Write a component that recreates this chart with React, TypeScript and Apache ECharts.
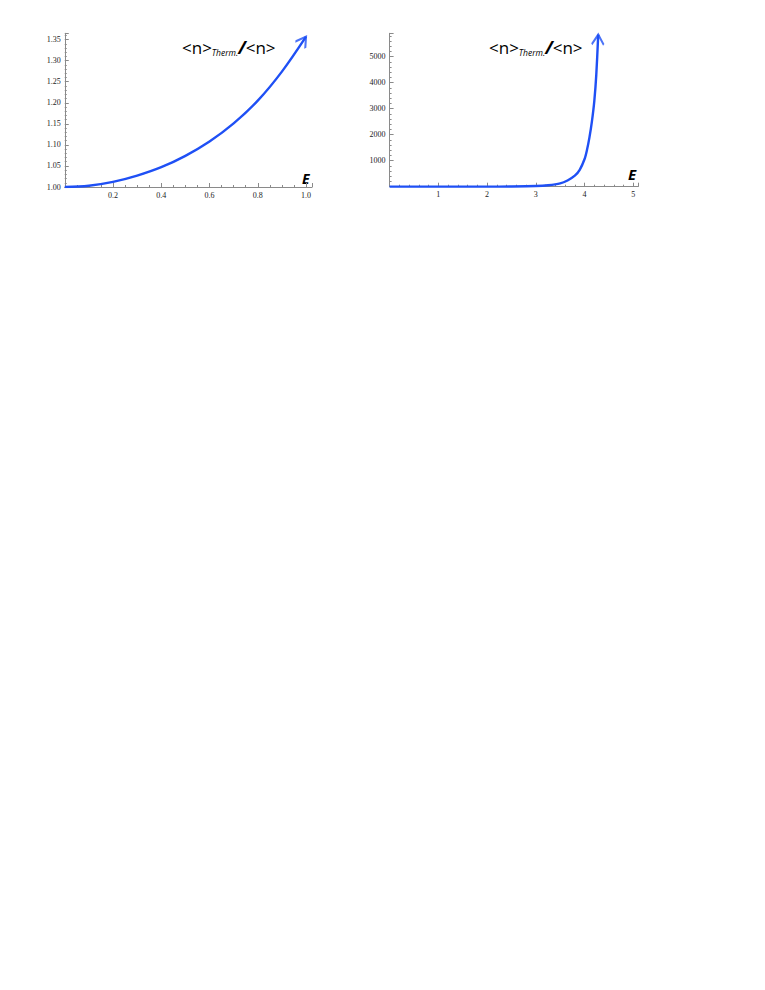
import React, { useEffect, useRef } from "react";
import * as echarts from "echarts";

// Left panel: E in [0,1]
const leftE = [0, 0.1, 0.2, 0.3, 0.4, 0.5, 0.6, 0.7, 0.8, 0.9, 1.0];
const leftRatio = [1.0, 1.003, 1.012, 1.027, 1.047, 1.074, 1.108, 1.151, 1.205, 1.274, 1.357];

// Right panel: E in [0, 4.28]
const rightE = [0, 0.5, 1, 1.5, 2, 2.5, 3, 3.25, 3.5, 3.65, 3.8, 3.9, 4.0, 4.05, 4.1, 4.15, 4.2, 4.24, 4.28];
const rightRatio = [1, 1, 1.1, 1.5, 3, 8, 25, 55, 127, 240, 423, 650, 1065, 1420, 1896, 2500, 3300, 4300, 5850];

const leftXTicks = ["0.2", "0.4", "0.6", "0.8", "1.0"];
const leftYTicks = ["1.00", "1.05", "1.10", "1.15", "1.20", "1.25", "1.30", "1.35"];
const rightXTicks = ["1", "2", "3", "4", "5"];
const rightYTicks = ["1000", "2000", "3000", "4000", "5000"];

const BLUE = "#1f50f5";
const AXIS = "#8a8a8a";
const LABEL = "#222";
const ARROW_PATH = "path://M0,20 L6,10 L12,20 M6,0 L6,0";

function zip(xs: number[], ys: number[]) {
  return xs.map((x, i) => [x, ys[i]]);
}

function makeFormatter(allowed: string[], digits: number) {
  return (v: number) => {
    const s = digits >= 0 ? v.toFixed(digits) : String(Math.round(v));
    return allowed.includes(s) && Math.abs(v - parseFloat(s)) < 1e-9 ? s : "";
  };
}

function axisCommon() {
  return {
    axisLine: { show: true, onZero: false, lineStyle: { color: AXIS, width: 1 } },
    axisTick: { show: true, inside: true, length: 4, lineStyle: { color: AXIS } },
    minorTick: { show: true, length: 2, lineStyle: { color: AXIS } },
    splitLine: { show: false },
    axisLabel: {
      color: LABEL,
      fontFamily: "'Liberation Serif', 'DejaVu Serif', serif",
      fontSize: 8,
      margin: 4,
      showMaxLabel: false,
    },
  };
}

const titleRich = {
  m: { fontFamily: "'Open Sans', 'DejaVu Sans', sans-serif", fontSize: 17, color: "#111" },
  s: {
    fontFamily: "'Open Sans', 'DejaVu Sans', sans-serif",
    fontSize: 8.5,
    fontStyle: "italic",
    color: "#111",
    padding: [11, 0, 0, 0],
  },
  sl: {
    fontFamily: "'Open Sans', 'DejaVu Sans', sans-serif",
    fontSize: 18,
    fontStyle: "italic",
    fontWeight: "bold",
    color: "#111",
  },
};
const titleText = "{m|<n>}{s|Therm.}{sl|/}{m|<n>}";

export default function App() {
  const ref = useRef<HTMLDivElement>(null);

  useEffect(() => {
    if (!ref.current) return;
    const chart = echarts.init(ref.current, null, { renderer: "svg" });

    const leftData = zip(leftE, leftRatio);
    const rightData = zip(rightE, rightRatio);

    const buildOption = (rotL: number, rotR: number) => ({
      animation: false,
      grid: [
        { left: 64.75, top: 33.3, width: 247.3, height: 153.7 },
        { left: 389.6, top: 33.3, width: 248.6, height: 153.4 },
      ],
      xAxis: [
        {
          ...axisCommon(),
          type: "value",
          gridIndex: 0,
          min: 0,
          max: 1.025,
          interval: 0.2,
          minorTick: { show: true, splitNumber: 4, length: 2, lineStyle: { color: AXIS } },
          axisLabel: { ...axisCommon().axisLabel, formatter: makeFormatter(leftXTicks, 1) },
        },
        {
          ...axisCommon(),
          type: "value",
          gridIndex: 1,
          min: 0,
          max: 5.1,
          interval: 1,
          minorTick: { show: true, splitNumber: 5, length: 2, lineStyle: { color: AXIS } },
          axisLabel: { ...axisCommon().axisLabel, formatter: makeFormatter(rightXTicks, 0) },
        },
      ],
      yAxis: [
        {
          ...axisCommon(),
          type: "value",
          gridIndex: 0,
          min: 1.0,
          max: 1.365,
          interval: 0.05,
          minorTick: { show: true, splitNumber: 5, length: 2, lineStyle: { color: AXIS } },
          axisLabel: { ...axisCommon().axisLabel, formatter: makeFormatter(leftYTicks, 2) },
        },
        {
          ...axisCommon(),
          type: "value",
          gridIndex: 1,
          min: 0,
          max: 5900,
          interval: 1000,
          minorTick: { show: true, splitNumber: 5, length: 2, lineStyle: { color: AXIS } },
          axisLabel: { ...axisCommon().axisLabel, formatter: makeFormatter(rightYTicks, -1) },
        },
      ],
      series: [
        {
          type: "line",
          xAxisIndex: 0,
          yAxisIndex: 0,
          data: leftData,
          smooth: 0.35,
          symbol: "none",
          lineStyle: { color: BLUE, width: 2.4 },
          z: 5,
        },
        {
          type: "scatter",
          xAxisIndex: 0,
          yAxisIndex: 0,
          data: [leftData[leftData.length - 1]],
          symbol: ARROW_PATH,
          symbolSize: [12, 20],
          symbolRotate: rotL,
          itemStyle: { color: "rgba(0,0,0,0)", borderColor: BLUE, borderWidth: 2.2 },
          z: 6,
        },
        {
          type: "line",
          xAxisIndex: 1,
          yAxisIndex: 1,
          data: rightData,
          smooth: 0.3,
          symbol: "none",
          lineStyle: { color: BLUE, width: 2.4 },
          z: 5,
        },
        {
          type: "scatter",
          xAxisIndex: 1,
          yAxisIndex: 1,
          data: [rightData[rightData.length - 1]],
          symbol: ARROW_PATH,
          symbolSize: [12, 20],
          symbolRotate: rotR,
          itemStyle: { color: "rgba(0,0,0,0)", borderColor: BLUE, borderWidth: 2.2 },
          z: 6,
        },
      ],
      graphic: [
        { type: "text", left: 182, top: 38, style: { text: titleText, rich: titleRich } },
        { type: "text", left: 489, top: 38, style: { text: titleText, rich: titleRich } },
        {
          type: "text",
          left: 302,
          top: 171,
          style: {
            text: "E",
            fontFamily: "'Open Sans', 'DejaVu Sans', sans-serif",
            fontSize: 14,
            fontWeight: "bold",
            fontStyle: "italic",
            fill: "#000",
          },
        },
        {
          type: "text",
          left: 628,
          top: 166,
          style: {
            text: "E",
            fontFamily: "'Open Sans', 'DejaVu Sans', sans-serif",
            fontSize: 15,
            fontWeight: "bold",
            fontStyle: "italic",
            fill: "#000",
          },
        },
      ],
    });

    chart.setOption(buildOption(0, 0));

    const angleFor = (data: number[][], gridIdx: number) => {
      const a = data[data.length - 2];
      const b = data[data.length - 1];
      const pa = chart.convertToPixel({ gridIndex: gridIdx }, a) as number[];
      const pb = chart.convertToPixel({ gridIndex: gridIdx }, b) as number[];
      const theta = (Math.atan2(-(pb[1] - pa[1]), pb[0] - pa[0]) * 180) / Math.PI;
      return theta - 90;
    };
    const rotL = angleFor(leftData, 0);
    const rotR = angleFor(rightData, 1);
    chart.setOption(buildOption(rotL, rotR));

    return () => chart.dispose();
  }, []);

  return (
    <div
      ref={ref}
      style={{ position: "fixed", left: 0, top: 0, width: 765, height: 990, background: "#fff" }}
    />
  );
}
